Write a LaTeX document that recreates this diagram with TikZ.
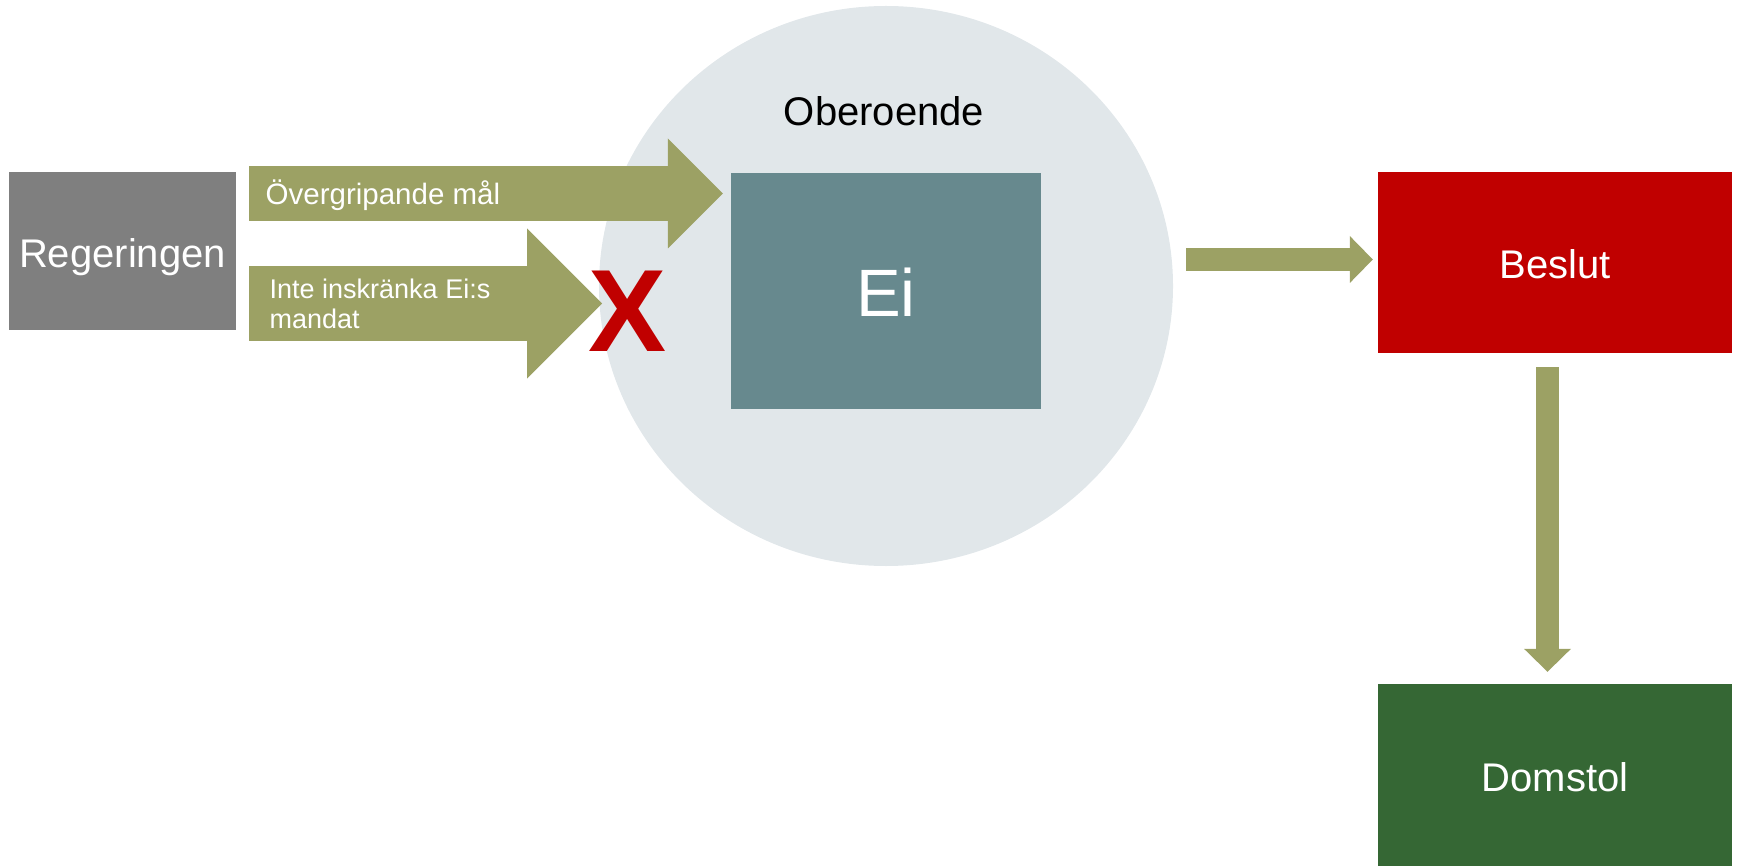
\documentclass[tikz,border=0pt]{standalone}
\usepackage{fontspec}
\setmainfont{Liberation Sans}
\usetikzlibrary{arrows.meta}
\definecolor{govgrey}{RGB}{127,127,127}
\definecolor{flowolive}{RGB}{156,161,100}
\definecolor{eiblue}{RGB}{103,137,142}
\definecolor{indepgrey}{RGB}{225,231,234}
\definecolor{vetored}{RGB}{192,0,0}
\definecolor{courtgreen}{RGB}{53,103,52}

\begin{document}
\begin{tikzpicture}[x = 1pt, y = -1pt,
        box/.style = {inner sep = 0pt, text = white, text depth = 0pt},
        bigfont/.style = {font = \fontsize{40}{48}\selectfont, text height = 33pt},
        flow/.style 2 args = {draw = flowolive, line width = #1,
            -{Triangle[length = #1, width = #2, line width = 0pt]}}]
    \useasboundingbox (0, 0) rectangle (1739, 866);
    \fill[indepgrey] (886, 286) ellipse [x radius = 287, y radius = 280];
    \node[anchor = base, inner sep = 0pt, bigfont, text height = {}] (indep) at (884, 126){Oberoende};

    \node[box, bigfont, fill = govgrey, minimum width = 227pt, minimum height = 158pt] (reg) at (122.5, 251){Regeringen};
    \node[box, fill = eiblue, minimum width = 310pt, minimum height = 236pt,
        font = \fontsize{67}{80}\selectfont, text height = 52pt] (ei) at (886, 291){Ei};
    \node[box, bigfont, fill = vetored, minimum width = 354pt, minimum height = 181pt] (beslut) at (1555, 262.5){Beslut};
    \node[box, bigfont, fill = courtgreen, minimum width = 354pt, minimum height = 182pt] (domstol) at (1555, 775){Domstol};

    \draw[flow = {55pt}{110pt}] ([xshift = 13pt]reg.east |- 0, 193.5) -- ([xshift = -8pt]ei.west |- 0, 193.5);
    \coordinate (stop) at (602, 303.5);
    \draw[flow = {75pt}{150pt}] ([xshift = 13pt]reg.east |- 0, 303.5) -- (stop);
    \draw[flow = {23pt}{47pt}] (1186, 259.5) -- ([xshift = -5pt]beslut.west |- 0, 259.5);
    \draw[flow = {23pt}{47pt}] ([yshift = -14pt]beslut.south -| 1547.5, 0) -- ([yshift = 12pt]domstol.north -| 1547.5, 0);

    \node[anchor = base west, inner sep = 0pt, text = white, font = \fontsize{29.5}{35}\selectfont] (goal) at (265.5, 205){Övergripande mål};
    \node[anchor = north west, align = left, inner sep = 0pt, text = white, font = \fontsize{27}{30}\selectfont] (limit) at (269.5, 278.5){Inte inskränka Ei:s\\mandat};
    \node[anchor = base, inner sep = 0pt, text = vetored, font = \fontsize{117}{140}\selectfont\bfseries] (veto) at (628, 352){X};
\end{tikzpicture}
\end{document}
